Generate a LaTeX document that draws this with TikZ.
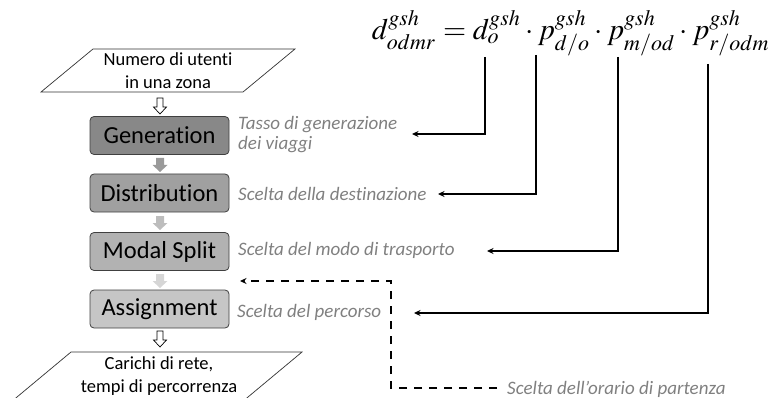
\documentclass[tikz,border=0pt]{standalone}
\usepackage{mathptmx}
\usepackage{graphicx}
\usepackage[no-math]{fontspec}
\setmainfont[Ligatures=NoCommon]{Carlito}
\usetikzlibrary{arrows.meta}
\definecolor{cgen}{HTML}{888888}
\definecolor{cdis}{HTML}{A0A0A0}
\definecolor{cmod}{HTML}{B2B2B2}
\definecolor{cass}{HTML}{C6C6C6}
\definecolor{carA}{HTML}{9A9A9A}
\definecolor{carB}{HTML}{BDBDBD}
\definecolor{carC}{HTML}{D6D6D6}
\definecolor{clbl}{HTML}{808080}
\begin{document}
\begin{tikzpicture}[x=1pt,y=-1pt,
  stage/.style={draw=black!75, rounded corners=4pt, minimum width=139pt, minimum height=38pt,
    inner sep=0pt, font=\fontsize{24.5}{28}\selectfont, line width=0.8pt},
  lbl/.style={anchor=west, text=clbl, font=\fontsize{19}{20}\selectfont\itshape, inner sep=0pt, align=left},
  ptext/.style={align=center, inner sep=0pt, font=\fontsize{18.5}{23}\selectfont},
  para/.style={draw=black!80, line width=0.7pt},
  conn/.style={line width=1.5pt, -{Stealth[length=6.5pt,width=6pt]}},
  dconn/.style={conn, dash pattern=on 8pt off 7pt},
  pics/openarr/.style={code={\path[pic actions] (-3,0) -- (3,0) -- (3,9) -- (6.5,9) -- (0,16) -- (-6.5,9) -- (-3,9) -- cycle;}},
  pics/grayarr/.style={code={\path[pic actions] (-4,0) -- (4,0) -- (4,7) -- (7.5,7) -- (0,14) -- (-7.5,7) -- (-4,7) -- cycle;}},
  ]
\useasboundingbox (0,0) rectangle (773,398);
\clip (0,0) rectangle (773,398);

% input / output parallelograms
\draw[para] (93,49) -- (295,49) -- (243,92) -- (41,92) -- cycle;
\node[ptext] (inp) at (168,71) {Numero di utenti\\in una zona};
\draw[para] (71,352) -- (302,352) -- (230,412) -- (-1,412) -- cycle;
\node[ptext] (out) at (159,376) {Carichi di rete,\\tempi di percorrenza};

% stages
\node[stage, fill=cgen] (gen) at (159.5,135.5) {Generation};
\node[stage, fill=cdis] (dis) at (159.5,193) {Distribution};
\node[stage, fill=cmod] (mod) at (159.5,251.5) {Modal Split};
\node[stage, fill=cass] (ass) at (159.5,309) {Assignment};

% block arrows
\pic[draw=black, fill=white, line width=0.7pt] at (160,98) {openarr};
\pic[fill=carA] at (160,158) {grayarr};
\pic[fill=carB] at (160,216) {grayarr};
\pic[fill=carC] at (160,274) {grayarr};
\pic[draw=black, fill=white, line width=0.7pt] at (160,331) {openarr};

% labels
\node[lbl] (l1) at (238,135) {Tasso di generazione\\dei viaggi};
\node[lbl] (l2) at (238,194) {Scelta della destinazione};
\node[lbl] (l3) at (238,250) {Scelta del modo di trasporto};
\node[lbl] (l4) at (237,312) {Scelta del percorso};
\node[lbl] (l5) at (507,389) {Scelta dell’orario di partenza};

% equation
\node[inner sep=0pt] (eq) at (571,33)
  {\resizebox{398pt}{!}{$d^{gsh}_{odmr}=d^{gsh}_{o}\cdot p^{gsh}_{d/o}\cdot p^{gsh}_{m/od}\cdot p^{gsh}_{r/odm}$}};

% connectors
\coordinate (t1) at (485,57);  \coordinate (e1) at (412,134);
\coordinate (t2) at (536,55);  \coordinate (e2) at (438,194);
\coordinate (t3) at (618,57);  \coordinate (e3) at (487,251);
\coordinate (t4) at (708,64);  \coordinate (e4) at (414,313);
\draw[conn] (t1) |- (e1);
\draw[conn] (t2) |- (e2);
\draw[conn] (t3) |- (e3);
\draw[conn] (t4) |- (e4);
\coordinate (s5) at (497,388); \coordinate (c5) at (391,388); \coordinate (e5) at (240,281);
\draw[dconn] (s5) -- (c5) |- (e5);
\end{tikzpicture}
\end{document}
